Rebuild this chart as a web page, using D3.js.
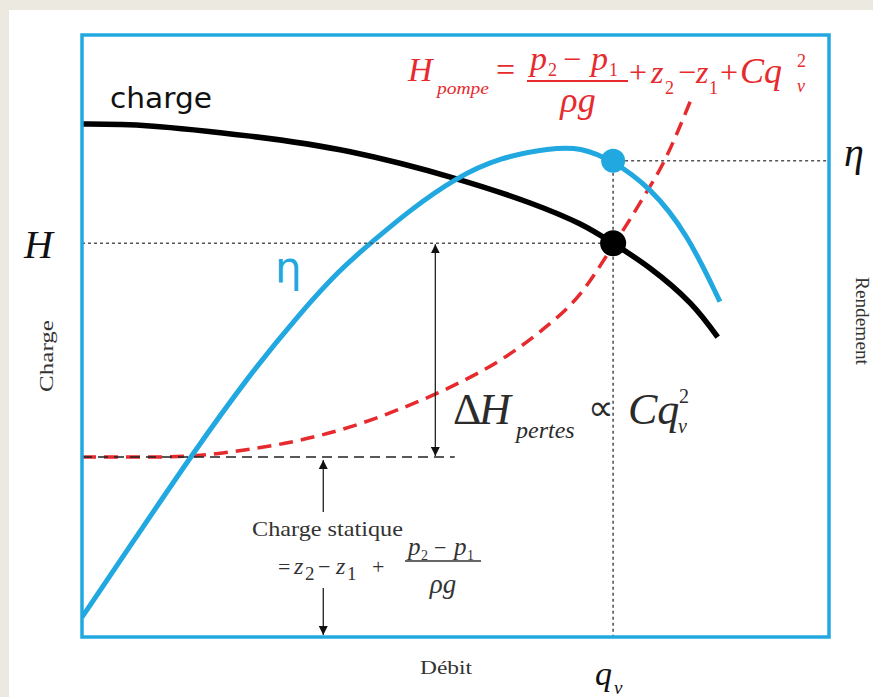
<!DOCTYPE html>
<html>
<head>
<meta charset="utf-8">
<script src="https://cdn.jsdelivr.net/npm/d3@7"></script>
<style>
  html, body { margin: 0; padding: 0; background: #ece9e0; }
  svg { display: block; }
</style>
</head>
<body>
<svg id="chart" width="873" height="697"></svg>
<script>
// Débit (% of range) and the three characteristic curves
const chargeDebit    = [0, 9.1, 22.5, 35.9, 49.9, 60.0, 66.7, 71.1, 76.0, 81.4, 85.1];
const chargeValues   = [85.2, 84.9, 83.2, 80.6, 76.2, 72.1, 68.6, 65.4, 61.3, 55.5, 49.8];

const rendementDebit  = [0, 7.8, 14.5, 22.5, 29.2, 34.5, 38.6, 43.9, 49.9, 56.0, 62.7, 66.7, 71.1, 76.0, 81.0, 85.4];
const rendementValues = [3.3, 17.6, 29.9, 43.7, 53.8, 61.0, 65.4, 70.9, 76.2, 79.7, 81.2, 81.4, 79.1, 74.8, 67.1, 55.7];

const pompeDebit  = [0, 9.1, 15.8, 22.5, 29.2, 35.9, 42.6, 49.3, 56.0, 61.3, 66.7, 71.1, 74.7, 78.0, 81.5];
const pompeValues = [29.9, 29.9, 30.2, 31.2, 32.7, 34.9, 37.9, 41.5, 46.0, 50.7, 57.0, 65.0, 72.1, 79.2, 89.2];

// Operating point and static head
const chargeStatique = 29.9;
const pointDebit = 71.1;      // q_v
const pointCharge = 65.4;     // H
const pointRendement = 79.1;  // η
const staticLineEnd = 49.9;   // extent of the static-head dashed line
const pertesArrowDebit = 47.3;
const statiqueArrowDebit = 32.3;

const RED = "#e62a2e", BLUE = "#22a8e0", INK = "#2b2b2b";
const SERIF = "'Liberation Serif','Times New Roman',serif";

const svg = d3.select("#chart");
const x = d3.scaleLinear().domain([0, 100]).range([82, 829]);
const y = d3.scaleLinear().domain([0, 100]).range([637, 35]);   // Charge
const yR = d3.scaleLinear().domain([0, 100]).range([637, 35]);  // Rendement

// white panel
svg.append("rect").attr("x", 9).attr("y", 10).attr("width", 864).attr("height", 687).attr("fill", "#fff");

const defs = svg.append("defs");
defs.append("clipPath").attr("id", "plot")
  .append("rect").attr("x", x(0)).attr("y", y(100)).attr("width", x(100) - x(0)).attr("height", y(0) - y(100));
defs.append("marker").attr("id", "head").attr("viewBox", "0 0 10 10").attr("refX", 10).attr("refY", 5)
  .attr("markerWidth", 9).attr("markerHeight", 9).attr("markerUnits", "userSpaceOnUse").attr("orient", "auto-start-reverse")
  .append("path").attr("d", "M0,0 L10,5 L0,10 z").attr("fill", "#111");

const g = svg.append("g").attr("clip-path", "url(#plot)");

function seg(x1, y1, x2, y2, style) {
  const l = svg.append("line").attr("x1", x1).attr("y1", y1).attr("x2", x2).attr("y2", y2);
  Object.entries(style).forEach(([k, v]) => l.attr(k, v));
  return l;
}

// guide lines through the operating point
const dotted = { stroke: "#555", "stroke-width": 1.6, "stroke-dasharray": "3,3" };
seg(x(0), y(pointCharge), x(pointDebit), y(pointCharge), dotted);
seg(x(pointDebit), yR(pointRendement), x(pointDebit), y(0), dotted);
seg(x(pointDebit), yR(pointRendement), x(100), yR(pointRendement), dotted);

// static head level
seg(x(0), y(chargeStatique), x(staticLineEnd), y(chargeStatique),
  { stroke: "#222", "stroke-width": 1.5, "stroke-dasharray": "10,6" });

// arrows
const arrow = { stroke: "#222", "stroke-width": 1.3 };
seg(x(pertesArrowDebit), y(pointCharge) + 1, x(pertesArrowDebit), y(chargeStatique) - 1, arrow)
  .attr("marker-start", "url(#head)").attr("marker-end", "url(#head)");
seg(x(statiqueArrowDebit), 512, x(statiqueArrowDebit), y(chargeStatique) + 3, arrow).attr("marker-end", "url(#head)");
seg(x(statiqueArrowDebit), 588, x(statiqueArrowDebit), y(0) - 2, arrow).attr("marker-end", "url(#head)");

const pompeLine = d3.line().x(d => x(d[0])).y(d => y(d[1])).curve(d3.curveMonotoneX);
const chargeLine = d3.line().x(d => x(d[0])).y(d => y(d[1])).curve(d3.curveNatural);
const rendLine = d3.line().x(d => x(d[0])).y(d => yR(d[1])).curve(d3.curveBasis);

g.append("path").datum(pompeDebit.map((q, i) => [q, pompeValues[i]]))
  .attr("d", pompeLine).attr("fill", "none").attr("stroke", RED).attr("stroke-width", 3.5)
  .attr("stroke-dasharray", "14,8");
g.append("path").datum(chargeDebit.map((q, i) => [q, chargeValues[i]]))
  .attr("d", chargeLine).attr("fill", "none").attr("stroke", "#000").attr("stroke-width", 5.5);
g.append("path").datum(rendementDebit.map((q, i) => [q, rendementValues[i]]))
  .attr("d", rendLine).attr("fill", "none").attr("stroke", BLUE).attr("stroke-width", 5);

// operating point markers
svg.append("circle").attr("cx", x(pointDebit)).attr("cy", yR(pointRendement)).attr("r", 12).attr("fill", BLUE);
svg.append("circle").attr("cx", x(pointDebit)).attr("cy", y(pointCharge)).attr("r", 13).attr("fill", "#000");

// frame
svg.append("rect").attr("x", x(0)).attr("y", y(100)).attr("width", x(100) - x(0)).attr("height", y(0) - y(100))
  .attr("fill", "none").attr("stroke", BLUE).attr("stroke-width", 3.5);

// text helper
function t(str, px, py, opt = {}) {
  const e = svg.append("text").attr("x", px).attr("y", py).text(str)
    .attr("font-family", opt.family || SERIF).attr("font-size", opt.size || 30)
    .attr("fill", opt.fill || "#111");
  if (opt.italic) e.attr("font-style", "italic");
  if (opt.anchor) e.attr("text-anchor", opt.anchor);
  if (opt.len) e.attr("textLength", opt.len).attr("lengthAdjust", "spacingAndGlyphs");
  if (opt.rotate) e.attr("transform", `rotate(${opt.rotate},${px},${py})`);
  return e;
}

// curve labels
t("charge", 110, 108, { family: "'DejaVu Sans',Verdana,sans-serif", size: 28, len: 102 });
t("η", 275, 282, { family: "'DejaVu Sans',sans-serif", size: 42, fill: BLUE });

// axis labels
t("H", 24, 258, { size: 40, italic: true });
t("Charge", 53, 356, { size: 19, anchor: "middle", rotate: -90, fill: "#333", len: 72 });
t("η", 844, 166, { size: 40, italic: true });
t("Rendement", 856, 321, { size: 18, anchor: "middle", rotate: 90, fill: "#333", len: 88 });
t("Débit", 420, 674, { size: 19, fill: "#333", len: 52 });
t("q", x(pointDebit) - 18, 685, { size: 34, italic: true });
t("v", x(pointDebit) + 1, 694, { size: 19, italic: true });

// pump head formula
const R = { fill: RED, italic: true };
t("H", 408, 81, { ...R, size: 34 });
t("pompe", 437, 94, { ...R, size: 16, len: 52 });
t("=", 496, 81, { fill: RED, size: 34 });
t("p", 530, 70, { ...R, size: 34 });
t("2", 548, 76, { fill: RED, size: 18 });
t("−", 563, 70, { fill: RED, size: 32 });
t("p", 591, 70, { ...R, size: 34 });
t("1", 609, 76, { fill: RED, size: 18 });
seg(527, 81, 628, 81, { stroke: RED, "stroke-width": 2 });
t("ρg", 578, 112, { ...R, size: 36, anchor: "middle" });
t("+", 629, 83, { fill: RED, size: 32 });
t("z", 651, 83, { ...R, size: 32 });
t("2", 665, 94, { fill: RED, size: 18 });
t("−", 678, 83, { fill: RED, size: 32 });
t("z", 696, 83, { ...R, size: 32 });
t("1", 709, 94, { fill: RED, size: 18 });
t("+", 720, 83, { fill: RED, size: 32 });
t("C", 740, 83, { ...R, size: 36 });
t("q", 764, 83, { ...R, size: 36 });
t("2", 797, 67, { fill: RED, size: 18 });
t("v", 797, 92, { ...R, size: 18 });

// friction losses
t("Δ", 453, 424, { size: 44, fill: INK });
t("H", 479, 424, { size: 44, italic: true, fill: INK });
t("pertes", 516, 438, { size: 24, italic: true, fill: INK });
t("∝", 588, 420, { size: 36, fill: INK });
t("Cq", 628, 424, { size: 44, italic: true, fill: INK });
t("2", 679, 403, { size: 20, fill: INK });
t("v", 678, 433, { size: 20, italic: true, fill: INK });

// static head description
t("Charge statique", 252, 536, { size: 21, fill: "#333", len: 151 });
t("=", 278, 574, { size: 22, fill: "#333" });
t("z", 294, 574, { size: 24, italic: true, fill: "#333" });
t("2", 305, 580, { size: 19, fill: "#333" });
t("−", 318, 574, { size: 22, fill: "#333" });
t("z", 336, 574, { size: 24, italic: true, fill: "#333" });
t("1", 347, 580, { size: 19, fill: "#333" });
t("+", 372, 574, { size: 22, fill: "#333" });
t("p", 408, 555, { size: 25, italic: true, fill: "#333" });
t("2", 421, 560, { size: 14, fill: "#333" });
t("−", 434, 555, { size: 22, fill: "#333" });
t("p", 454, 555, { size: 25, italic: true, fill: "#333" });
t("1", 467, 560, { size: 14, fill: "#333" });
seg(405, 561, 481, 561, { stroke: "#333", "stroke-width": 1.5 });
t("ρg", 443, 593, { size: 27, italic: true, fill: "#333", anchor: "middle" });
</script>
</body>
</html>
